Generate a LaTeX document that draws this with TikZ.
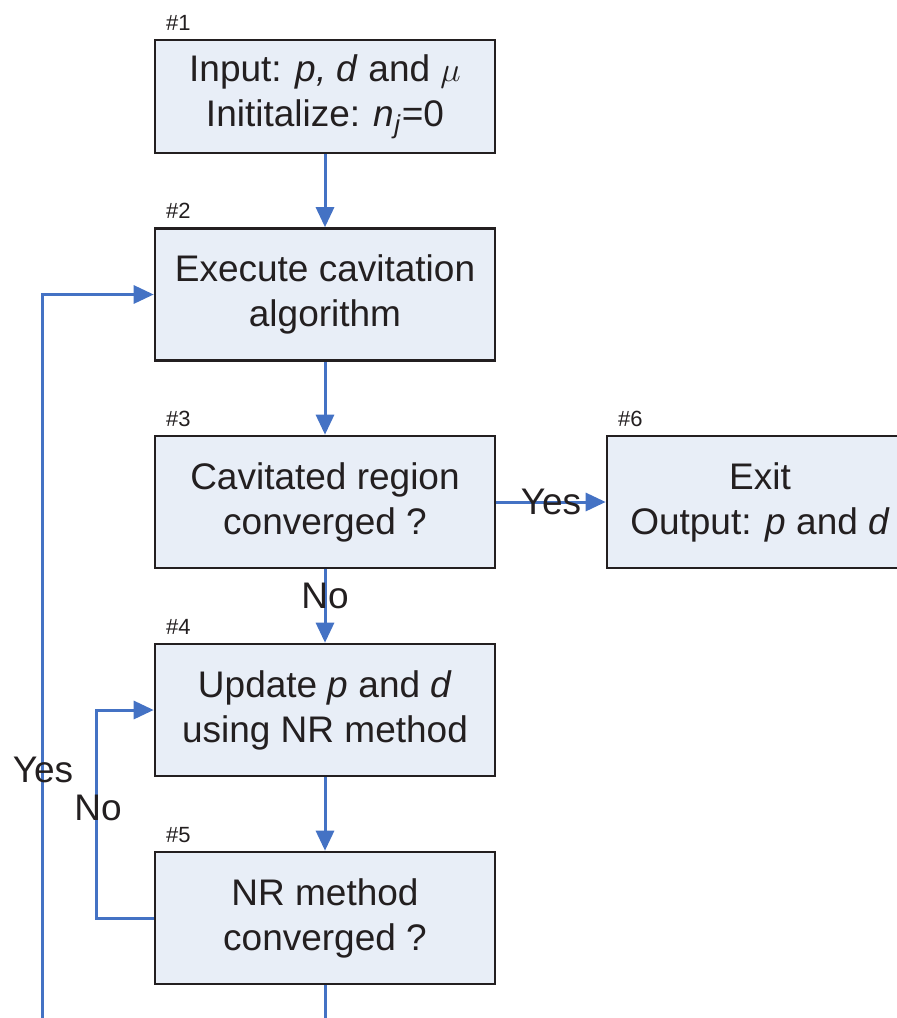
\documentclass[tikz,border=0pt]{standalone}
\usepackage{fontspec}
\setmainfont{Liberation Sans}
\usetikzlibrary{positioning, arrows.meta}
\definecolor{box_fill}{HTML}{E8EEF7}
\definecolor{flow_blue}{HTML}{4472C4}
\definecolor{ink}{HTML}{231F20}
\tikzset{
	stepbox/.style={draw=ink, line width=1.3pt, fill=box_fill, text=ink,
		minimum width=170pt, minimum height=66pt, align=center, inner sep=0pt,
		font=\fontsize{18.5}{22.5}\selectfont},
	tag/.style={text=ink, font=\fontsize{11}{13}\selectfont, inner sep=0pt},
	flow/.style={draw=flow_blue, line width=1.5pt, -{Triangle[length=10pt,width=9pt]}},
	lbl/.style={text=ink, font=\fontsize{18.5}{20}\selectfont, inner sep=0pt}
}

\begin{document}
\begin{tikzpicture}[x=0.5pt,y=-0.5pt,line join=miter]
		\useasboundingbox (0,0) rectangle (897,1018);
		\clip (0,0) rectangle (897,1018);
		% boxes
		\node[stepbox, minimum height=56.5pt] (b1) at (325,96.5) {Input: \textit{p, d} and $\mu$\\Inititalize: \textit{n}\textsubscript{\textit{j}}=0};
		\node[stepbox] (b2) at (325,294.5) {Execute cavitation\\algorithm};
		\node[stepbox] (b3) at (325,502) {Cavitated region\\converged ?};
		\node[stepbox] (b4) at (325,710) {Update \textit{p} and \textit{d}\\using NR method};
		\node[stepbox] (b5) at (325,918) {NR method\\converged ?};
		\node[stepbox, minimum width=153pt] (b6) at (760,502) {Exit\\Output: \textit{p} and \textit{d}};
		% step numbers
		\foreach \b/\n in {b1/1,b2/2,b3/3,b4/4,b5/5,b6/6}
		{
			\node[tag, anchor=south west] at ([xshift=6pt,yshift=4pt]\b.north west) {\#\n};
		}
		% connectors
		\coordinate (loopbot) at (42,1060);
		\draw[flow] (b1) -- (b2);
		\draw[flow] (b2) -- (b3);
		\draw[flow] (b3) -- node[lbl, above=-2pt] {No} (b4);
		\draw[flow] (b3) -- node[lbl] {Yes} (b6);
		\draw[flow] (b4) -- (b5);
		\draw[flow] (b5.west) -- ++(-57,0) |- (b4.west);
		\draw[flow] (b5.south) |- (loopbot) |- (b2.west);
		\node[lbl] (no2) at (98,808) {No};
		\node[lbl] (yes2) at (43,770) {Yes};
	\end{tikzpicture}
\end{document}
